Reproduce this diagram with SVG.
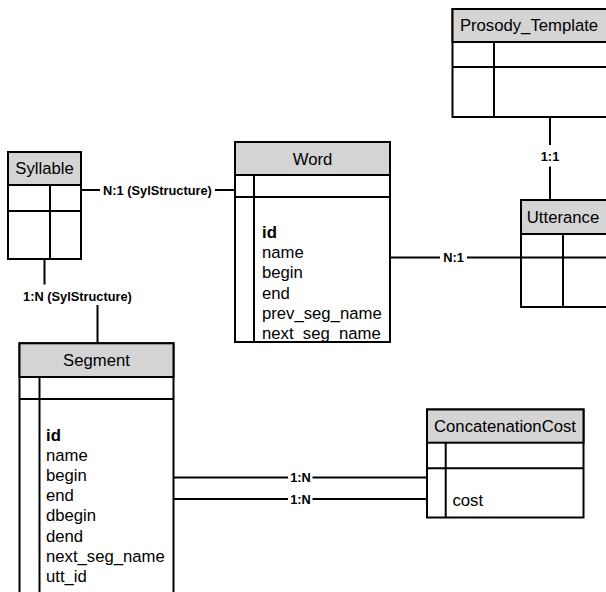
<svg xmlns="http://www.w3.org/2000/svg" width="606" height="592" viewBox="0 0 606 592">
<style>
.box{fill:#fff;stroke:#000;stroke-width:2}
.hdr{fill:#d4d4d4;stroke:#000;stroke-width:2}
.ln{stroke:#000;stroke-width:2;fill:none}
.t{font-family:"Liberation Sans",Arial,sans-serif;font-size:16.7px;fill:#000}
.c{text-anchor:middle}
.b{font-weight:bold}
.lbl{font-family:"Liberation Sans",Arial,sans-serif;font-size:12.8px;font-weight:bold;fill:#000;text-anchor:middle}
</style>
<rect width="606" height="592" fill="#fff"/>
<g id="connectors">
<line class="ln" x1="81" y1="190" x2="100" y2="190"/>
<line class="ln" x1="215" y1="190" x2="235" y2="190"/>
<text class="lbl" x="157.5" y="194.5">N:1 (SylStructure)</text>
<line class="ln" x1="44.5" y1="259" x2="44.5" y2="284.5"/>
<line class="ln" x1="97.5" y1="305" x2="97.5" y2="343"/>
<text class="lbl" x="77.5" y="301">1:N (SylStructure)</text>
<line class="ln" x1="550" y1="117" x2="550" y2="145"/>
<line class="ln" x1="550" y1="166.5" x2="550" y2="200"/>
<text class="lbl" x="550" y="160.5">1:1</text>
<line class="ln" x1="390" y1="257.5" x2="440" y2="257.5"/>
<line class="ln" x1="467" y1="257.5" x2="521" y2="257.5"/>
<text class="lbl" x="453.5" y="262">N:1</text>
<line class="ln" x1="173.5" y1="477.5" x2="288" y2="477.5"/>
<line class="ln" x1="312.5" y1="477.5" x2="427" y2="477.5"/>
<text class="lbl" x="300.5" y="482">1:N</text>
<line class="ln" x1="173.5" y1="499" x2="288" y2="499"/>
<line class="ln" x1="312.5" y1="499" x2="427" y2="499"/>
<text class="lbl" x="300.5" y="503.5">1:N</text>
</g>
<g id="prosody_template">
<rect class="box" x="452.5" y="9" width="156" height="108"/>
<rect class="hdr" x="452.5" y="9" width="156" height="33"/>
<line class="ln" x1="452.5" y1="67" x2="608" y2="67"/>
<line class="ln" x1="494" y1="42" x2="494" y2="117"/>
<text class="t c" x="529" y="31">Prosody_Template</text>
</g>
<g id="utterance">
<rect class="box" x="521" y="200" width="88" height="107"/>
<rect class="hdr" x="521" y="200" width="88" height="34"/>
<line class="ln" x1="521" y1="257.5" x2="608" y2="257.5"/>
<line class="ln" x1="563" y1="234" x2="563" y2="307"/>
<text class="t c" x="563" y="222.7">Utterance</text>
</g>
<g id="syllable">
<rect class="box" x="8" y="152" width="73" height="107"/>
<rect class="hdr" x="8" y="152" width="73" height="33"/>
<line class="ln" x1="8" y1="211" x2="81" y2="211"/>
<line class="ln" x1="50" y1="185" x2="50" y2="259"/>
<text class="t c" x="44.5" y="174">Syllable</text>
</g>
<g id="word">
<rect class="box" x="235" y="142" width="155" height="200"/>
<rect class="hdr" x="235" y="142" width="155" height="33"/>
<line class="ln" x1="235" y1="197" x2="390" y2="197"/>
<line class="ln" x1="254" y1="175" x2="254" y2="342"/>
<text class="t c" x="312.5" y="165">Word</text>
<text class="t b" x="262" y="238">id</text>
<text class="t" x="262" y="258.2">name</text>
<text class="t" x="262" y="278.4">begin</text>
<text class="t" x="262" y="298.6">end</text>
<text class="t" x="262" y="318.8">prev_seg_name</text>
<text class="t" x="262" y="339">next_seg_name</text>
</g>
<g id="segment">
<rect class="box" x="19.5" y="343.3" width="154" height="260"/>
<rect class="hdr" x="19.5" y="343.3" width="154" height="33.7"/>
<line class="ln" x1="19.5" y1="399" x2="173.5" y2="399"/>
<line class="ln" x1="39.5" y1="377" x2="39.5" y2="600"/>
<text class="t c" x="96.5" y="366">Segment</text>
<text class="t b" x="46" y="440.5">id</text>
<text class="t" x="46" y="460.7">name</text>
<text class="t" x="46" y="480.9">begin</text>
<text class="t" x="46" y="501.1">end</text>
<text class="t" x="46" y="521.3">dbegin</text>
<text class="t" x="46" y="541.5">dend</text>
<text class="t" x="46" y="561.7">next_seg_name</text>
<text class="t" x="46" y="581.9">utt_id</text>
</g>
<g id="concatenation_cost">
<rect class="box" x="427" y="409.5" width="156.5" height="108"/>
<rect class="hdr" x="427" y="409.5" width="156.5" height="33.2"/>
<line class="ln" x1="427" y1="468.3" x2="583.5" y2="468.3"/>
<line class="ln" x1="445.7" y1="442.7" x2="445.7" y2="517.5"/>
<text class="t c" x="505" y="432">ConcatenationCost</text>
<text class="t" x="452.5" y="505.5">cost</text>
</g>
</svg>
